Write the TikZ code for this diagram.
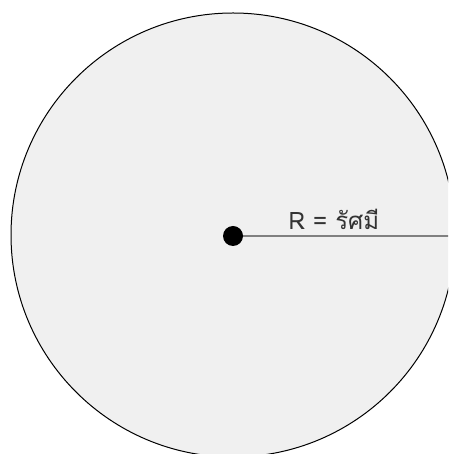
\documentclass[tikz,border=0pt]{standalone}
\usepackage{fontspec}
\newfontfamily\thaifont[Script=Thai]{Loma}
\definecolor{circfill}{HTML}{F0F0F0}
\definecolor{radline}{HTML}{808080}
\definecolor{labeltext}{HTML}{333333}
\begin{document}
\begin{tikzpicture}[x=1pt,y=1pt,
  circ/.style={draw=black, line width=1pt, fill=circfill},
  dot/.style={circle, fill=black, inner sep=0pt, minimum size=20pt},
  radius line/.style={draw=radline, line width=1.2pt},
  lbl/.style={font=\thaifont\fontsize{24}{28}\selectfont, text=labeltext, inner sep=0pt}]
\useasboundingbox (0,0) rectangle (448,454);
\clip (0,0) rectangle (448,454);
\fill[white] (0,0) rectangle (448,454);
\path[circ] (233,219) circle[radius=222];
\coordinate (edge) at (455,218);
\draw[radius line] (233,218) -- (edge);
\node[dot] (c) at (233,218) {};
\node[lbl] (r) at (334,235) {R = รัศมี};
\end{tikzpicture}
\end{document}
